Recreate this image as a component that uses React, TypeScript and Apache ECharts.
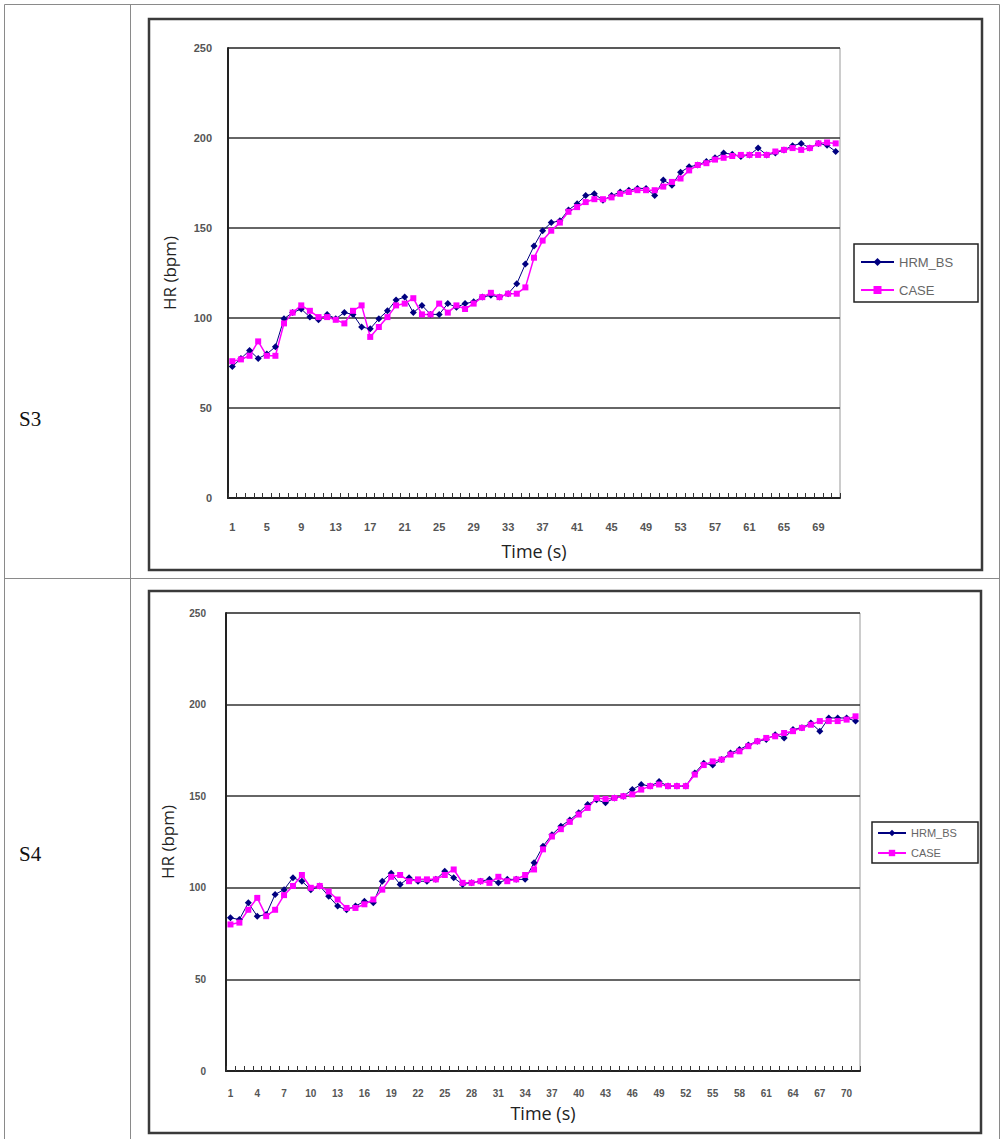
import React, { useEffect, useRef } from "react";
import * as echarts from "echarts";

const timeS3: string[] = Array.from({ length: 71 }, (_, i) => String(i + 1));
const timeS4: string[] = Array.from({ length: 71 }, (_, i) => String(i + 1));

const s3Hrm: number[] = [
  73, 77.5, 82, 77.5, 80, 84, 99.6, 103, 105, 100.5, 99, 102, 99.6, 103, 102, 95, 94, 99.6, 104, 110,
  111.6, 103, 107, 102, 102, 108, 106, 108, 109, 111.6, 112.6, 111.6, 113.5, 119, 130, 140, 148.5, 153, 154, 160,
  163.5, 168, 169, 165.4, 168, 170, 171, 172, 172, 168, 176.6, 173.8, 181, 184, 185, 187, 189, 191.6, 191, 189.7,
  190.6, 194.4, 190.6, 191.6, 193.4, 195.7, 197, 194.4, 197, 196, 192.5,
];
const s3Case: number[] = [
  76, 77, 79, 87, 79, 79, 97, 103, 107, 104, 100.5, 100.5, 99, 97, 104, 107, 89.5, 95, 100.5, 107,
  108, 111, 102, 102, 108, 103, 107, 105, 108, 111.6, 114, 111.6, 113.5, 113.5, 117, 133.5, 143, 148.5, 153, 159,
  161.6, 164.4, 166, 166, 167, 169, 170, 171, 171, 171, 173, 175.6, 177.5, 182, 185, 186, 188, 189, 190, 190.6,
  190.6, 190.6, 190.6, 192.5, 193.4, 194.4, 193.4, 194.4, 197, 197.5, 197,
];
const s4Hrm: number[] = [
  83.6, 82.7, 91.8, 84.5, 85.4, 96.4, 99, 105.5, 103.6, 99, 101, 95.4, 90, 88, 90, 92.7, 91.8, 103.6, 108, 101.8,
  105.5, 103.6, 103.6, 104.6, 109, 105.5, 101.8, 102.7, 103.6, 104.6, 102.7, 104.6, 104.6, 104.6, 113.7, 122.7, 129, 133.6, 137, 141,
  145.5, 148, 146.4, 149, 150, 153.6, 156.4, 155.5, 158, 155.5, 155.5, 155.5, 162.7, 168, 167, 170, 173.6, 175.5, 178, 180,
  181, 183.6, 181.8, 186.4, 187.3, 190, 185.5, 192.7, 192.7, 192.7, 191,
];
const s4Case: number[] = [
  80, 81, 88, 94.5, 84.5, 88, 96, 101, 107, 100, 101, 98, 93.6, 89, 89, 91, 93.6, 99, 106, 107,
  103.6, 104.6, 104.6, 104.6, 107, 110, 102.7, 102.7, 103.6, 102.7, 106, 103.6, 104.6, 107, 110, 121, 128, 132, 136, 140,
  143.6, 149, 148.5, 149, 150, 151, 153.6, 155.5, 156.4, 155.5, 155.5, 155.5, 161.8, 167, 169, 170, 172.7, 174.5, 177.3, 180,
  181.8, 182.7, 184.5, 185.5, 187.3, 189, 191, 191, 191, 191.8, 193.6,
];

const seriesNames = ["HRM_BS", "CASE"];
const rowLabels = ["S3", "S4"];
const yTitle = "HR (bpm)";
const xTitle = "Time (s)";

export default function App() {
  const ref = useRef<HTMLDivElement>(null);
  useEffect(() => {
    if (!ref.current) return;
    const chart = echarts.init(ref.current, null, { renderer: "svg" });
    const tickFont = "Liberation Sans";
    const titleFont = "Open Sans";
    const mkX = (gridIndex: number, data: string[], interval: number, margin: number, fs: number, gap: number) => ({
      type: "category",
      gridIndex,
      data,
      boundaryGap: true,
      axisLine: { lineStyle: { color: "#222", width: 2 } },
      axisTick: { show: true, inside: true, interval: 0, length: 5, lineStyle: { color: "#333", width: 1 } },
      axisLabel: { interval, margin, fontSize: fs, color: "#555", fontWeight: "bold", fontFamily: tickFont },
      name: xTitle,
      nameLocation: "middle",
      nameGap: gap,
      nameTextStyle: { fontSize: 18, color: "#222", fontFamily: titleFont },
      splitLine: { show: false },
    });
    const mkY = (gridIndex: number, margin: number, fs: number) => ({
      type: "value",
      gridIndex,
      min: 0,
      max: 250,
      interval: 50,
      axisLine: { show: true, lineStyle: { color: "#222", width: 2 } },
      axisTick: { show: false },
      axisLabel: { margin, fontSize: fs, color: "#555", fontWeight: "bold", fontFamily: tickFont },
      splitLine: { show: true, lineStyle: { color: "#333", width: 1.5 } },
      name: yTitle,
      nameLocation: "middle",
      nameRotate: 90,
      nameGap: 50,
      nameTextStyle: { fontSize: 17, color: "#222", fontFamily: titleFont, padding: [0, 0, 0, 0] },
    });
    const mkSeries = (idx: number, hrm: number[], cs: number[]) => [
      {
        name: seriesNames[0],
        type: "line",
        xAxisIndex: idx,
        yAxisIndex: idx,
        data: hrm,
        symbol: "diamond",
        symbolSize: 7,
        showAllSymbol: true,
        itemStyle: { color: "#000080" },
        lineStyle: { color: "#000080", width: 1 },
      },
      {
        name: seriesNames[1],
        type: "line",
        xAxisIndex: idx,
        yAxisIndex: idx,
        data: cs,
        symbol: "rect",
        symbolSize: 6,
        showAllSymbol: true,
        itemStyle: { color: "#ff00ff" },
        lineStyle: { color: "#ff00ff", width: 1.5 },
      },
    ];
    chart.setOption({
      animation: false,
      backgroundColor: "#fff",
      grid: [
        { left: 228, top: 48, width: 612, height: 450, show: true, borderColor: "#999", borderWidth: 1, backgroundColor: "transparent" },
        { left: 226, top: 613, width: 634, height: 458, show: true, borderColor: "#999", borderWidth: 1, backgroundColor: "transparent" },
      ],
      xAxis: [mkX(0, timeS3, 3, 23, 11, 44), mkX(1, timeS4, 2, 17, 10, 33)],
      yAxis: [mkY(0, 16, 11), mkY(1, 20, 10)],
      legend: [
        {
          left: 854,
          top: 244,
          orient: "vertical",
          padding: [11, 13, 5, 6],
          itemGap: 14,
          itemWidth: 33,
          itemHeight: 10,
          borderColor: "#222",
          borderWidth: 1.5,
          data: seriesNames,
          textStyle: { fontSize: 13, lineHeight: 14, width: 66, color: "#666", fontFamily: tickFont },
        },
        {
          left: 872,
          top: 822,
          orient: "vertical",
          padding: [5, 7, 4, 5],
          itemGap: 8,
          itemWidth: 28,
          itemHeight: 8,
          borderColor: "#222",
          borderWidth: 1.5,
          data: seriesNames,
          textStyle: { fontSize: 11, lineHeight: 12, width: 60, color: "#666", fontFamily: tickFont },
        },
      ],
      graphic: [
        { type: "rect", shape: { x: 4.5, y: 4.5, width: 995, height: 1140 }, style: { fill: "none", stroke: "#8a8a8a", lineWidth: 1 }, silent: true },
        { type: "line", shape: { x1: 130.5, y1: 4, x2: 130.5, y2: 1139 }, style: { stroke: "#8a8a8a", lineWidth: 1 }, silent: true },
        { type: "line", shape: { x1: 4, y1: 578.5, x2: 1000, y2: 578.5 }, style: { stroke: "#8a8a8a", lineWidth: 1 }, silent: true },
        { type: "rect", shape: { x: 149, y: 19, width: 833, height: 551 }, style: { fill: "none", stroke: "#3a3a3a", lineWidth: 2.5 }, silent: true },
        { type: "rect", shape: { x: 149, y: 591, width: 832, height: 542 }, style: { fill: "none", stroke: "#3a3a3a", lineWidth: 2.5 }, silent: true },
        { type: "text", left: 19, top: 408, style: { text: rowLabels[0], fontSize: 21, fontFamily: "Liberation Serif", fill: "#111" } },
        { type: "text", left: 19, top: 843, style: { text: rowLabels[1], fontSize: 21, fontFamily: "Liberation Serif", fill: "#111" } },
      ],
      series: [...mkSeries(0, s3Hrm, s3Case), ...mkSeries(1, s4Hrm, s4Case)],
    });
    return () => chart.dispose();
  }, []);
  return (
    <div
      ref={ref}
      style={{ position: "absolute", left: 0, top: 0, width: 1001, height: 1139, background: "#fff" }}
    />
  );
}
